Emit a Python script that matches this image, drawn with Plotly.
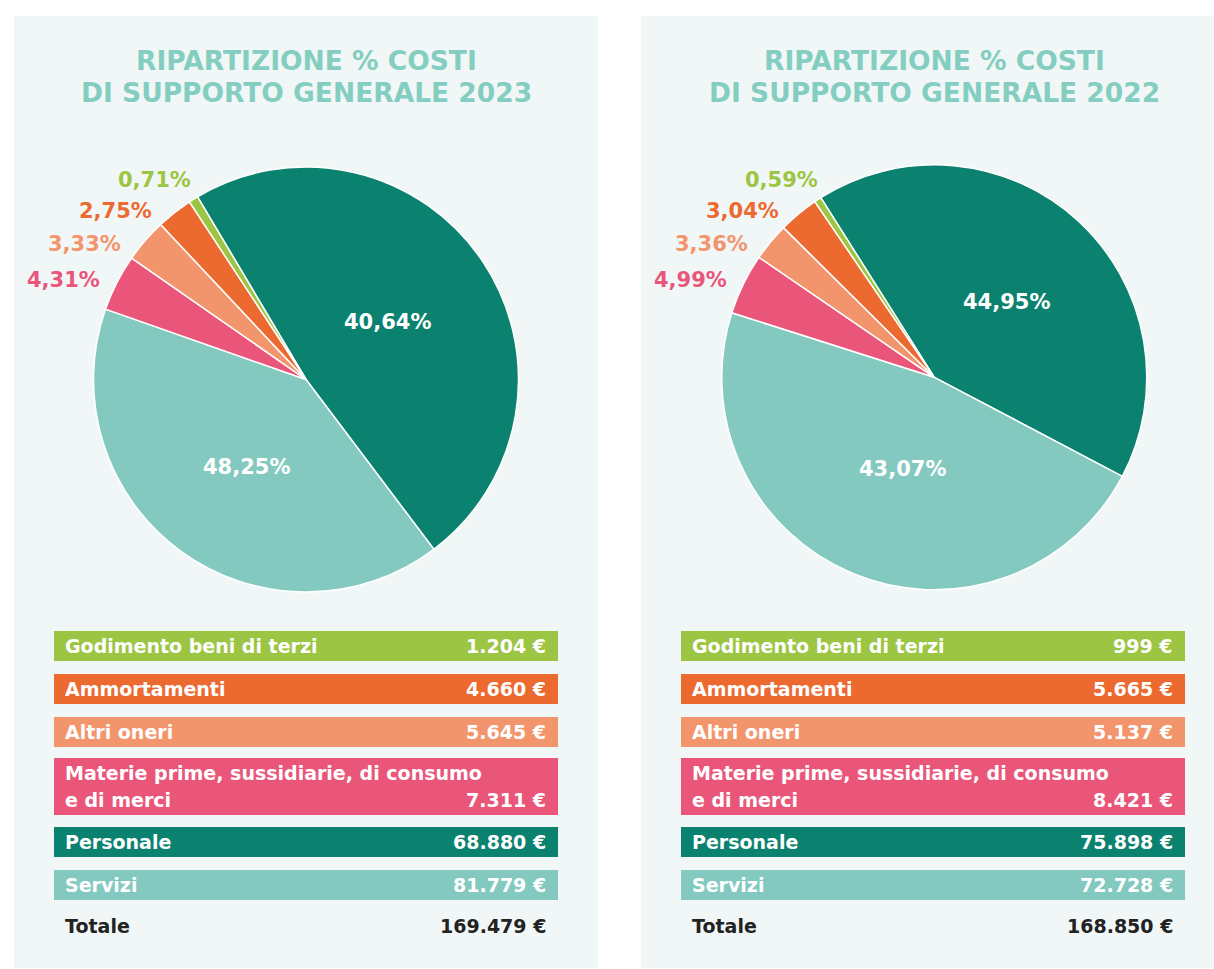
import plotly.graph_objects as go

W, H = 1214, 969

# ---------------- data ----------------
categories = ["Godimento beni di terzi", "Ammortamenti", "Altri oneri",
              "Materie prime, sussidiarie, di consumo\ne di merci", "Personale", "Servizi"]
euro_2023 = [1204, 4660, 5645, 7311, 68880, 81779]
euro_2022 = [999, 5665, 5137, 8421, 75898, 72728]
total_2023 = 169479
total_2022 = 168850
pct_2023 = [0.71, 2.75, 3.33, 4.31, 40.64, 48.25]
pct_2022 = [0.59, 3.04, 3.36, 4.99, 44.95, 43.07]

# pie slices as drawn in the picture (clockwise from the top-left start)
slice_colors_order = ["Personale", "Servizi", "Materie", "Altri", "Ammort", "Godimento"]
drawn_2023 = [48.25, 40.64, 4.31, 3.33, 2.75, 0.71]
drawn_2022 = [41.7, 47.2, 4.64, 2.89, 3.06, 0.53]

titles = ["RIPARTIZIONE % COSTI", "DI SUPPORTO GENERALE"]

# ---------------- style ----------------
C = {
    "Godimento": "#9cc543",
    "Ammort": "#ec6a30",
    "Altri": "#f3956c",
    "Materie": "#e9567a",
    "Personale": "#0b8270",
    "Servizi": "#84c9bf",
}
cat_colors = [C["Godimento"], C["Ammort"], C["Altri"], C["Materie"], C["Personale"], C["Servizi"]]
PANEL_BG = "#f1f7f7"
TITLE_C = "#84cdc1"
DARK = "#222222"
FONT = "DejaVu Sans"


def px(x):
    return x / W


def py(y):
    return 1 - y / H


def fmt_eur(v):
    return f"{v:,}".replace(",", ".") + " €"


def fmt_pct(p):
    return f"{p:.2f}".replace(".", ",") + "%"


fig = go.Figure()
shapes = []
ann = []

panels = [
    dict(x0=14, x1=598, cx=306, cy=379.5, rot=-30.7, drawn=drawn_2023,
         euro=euro_2023, total=total_2023, pct=pct_2023, year="2023",
         inner=[(387, 322), (246, 467)]),
    dict(x0=641, x1=1227, cx=934.3, cy=377.3, rot=-32.3, drawn=drawn_2022,
         euro=euro_2022, total=total_2022, pct=pct_2022, year="2022",
         inner=[(1006, 302), (902, 469)]),
]
R = 212.5

bar_rows = [(631, 661), (674, 704), (717, 747), (758, 815), (827, 857), (870, 900)]
outer_pos = [(154, 180), (115, 211), (84, 244), (63, 280)]

for P in panels:
    off = P["x0"] - 14
    shapes.append(dict(type="rect", xref="paper", yref="paper", layer="below",
                       x0=px(P["x0"]), x1=px(min(P["x1"], W + 20)), y0=py(968), y1=py(16),
                       fillcolor=PANEL_BG, line=dict(width=0)))
    # titles
    ann.append(dict(text=titles[0], x=px(P["cx"]), y=py(60)))
    ann.append(dict(text=f"{titles[1]} {P['year']}", x=px(P["cx"]), y=py(92)))
    for a in ann[-2:]:
        a.update(xref="paper", yref="paper", xanchor="center", yanchor="middle",
                 showarrow=False, font=dict(family=FONT, size=26.5, color=TITLE_C, weight=700))

    # pie
    fig.add_trace(go.Pie(
        values=P["drawn"], labels=slice_colors_order, sort=False, direction="clockwise",
        rotation=P["rot"], textinfo="none", hoverinfo="skip",
        marker=dict(colors=[C[k] for k in slice_colors_order], line=dict(color="white", width=1.5)),
        domain=dict(x=[px(P["cx"] - R), px(P["cx"] + R)], y=[py(P["cy"] + R), py(P["cy"] - R)]),
        showlegend=False,
    ))

    # outside % labels (small slices)
    for i in range(4):
        x, y = outer_pos[i]
        ann.append(dict(text=fmt_pct(P["pct"][i]), x=px(x + off), y=py(y), xref="paper", yref="paper",
                        xanchor="center", yanchor="middle", showarrow=False,
                        font=dict(family=FONT, size=21, color=cat_colors[i], weight=700)))
    # inside % labels
    for (x, y), i in zip(P["inner"], [4, 5]):
        ann.append(dict(text=fmt_pct(P["pct"][i]), x=px(x), y=py(y), xref="paper", yref="paper",
                        xanchor="center", yanchor="middle", showarrow=False,
                        font=dict(family=FONT, size=21, color="white", weight=700)))

    # legend bars
    bx0, bx1 = 54 + off, 558 + off
    for i, (y0, y1) in enumerate(bar_rows):
        shapes.append(dict(type="rect", xref="paper", yref="paper", layer="below",
                           x0=px(bx0), x1=px(bx1), y0=py(y1), y1=py(y0),
                           fillcolor=cat_colors[i], line=dict(width=0)))
        lines = categories[i].split("\n")
        f = dict(family=FONT, size=19, color="white", weight=700)
        if len(lines) == 1:
            ym = (y0 + y1) / 2
            ann.append(dict(text=lines[0], x=px(bx0 + 9), y=py(ym), xanchor="left"))
            ann.append(dict(text=fmt_eur(P["euro"][i]), x=px(bx1 - 10), y=py(ym), xanchor="right"))
        else:
            ann.append(dict(text=lines[0], x=px(bx0 + 9), y=py(y0 + 15), xanchor="left"))
            ann.append(dict(text=lines[1], x=px(bx0 + 9), y=py(y1 - 15), xanchor="left"))
            ann.append(dict(text=fmt_eur(P["euro"][i]), x=px(bx1 - 10), y=py(y1 - 15), xanchor="right"))
        for a in ann[-(len(lines) + 1):]:
            a.update(xref="paper", yref="paper", yanchor="middle", showarrow=False, font=f)
    # total
    fT = dict(family=FONT, size=19, color=DARK, weight=700)
    ann.append(dict(text="Totale", x=px(bx0 + 9), y=py(926), xanchor="left"))
    ann.append(dict(text=fmt_eur(P["total"]), x=px(bx1 - 10), y=py(926), xanchor="right"))
    for a in ann[-2:]:
        a.update(xref="paper", yref="paper", yanchor="middle", showarrow=False, font=fT)

fig.update_layout(
    width=W, height=H, margin=dict(l=0, r=0, t=0, b=0),
    paper_bgcolor="white", plot_bgcolor="white",
    shapes=shapes, annotations=ann, showlegend=False,
)

fig.write_html("out.html", config={"displayModeBar": False},
               post_script="document.body.style.margin='0';")
